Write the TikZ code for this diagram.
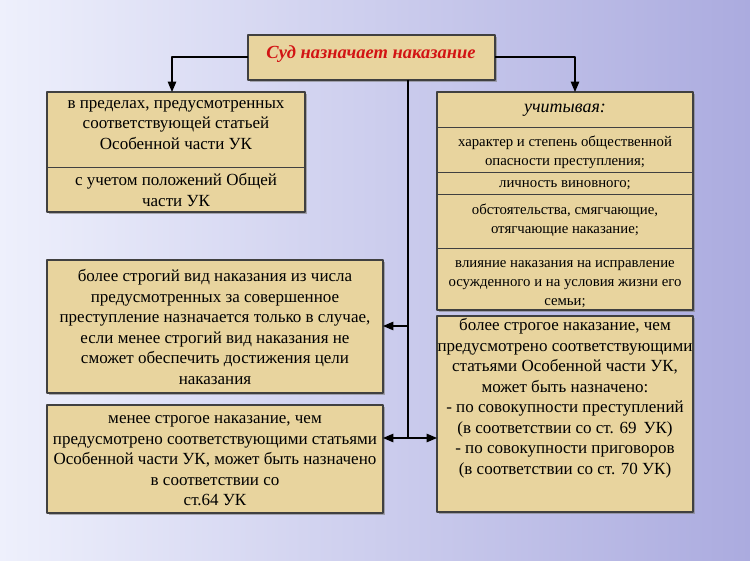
\documentclass[tikz,border=0pt]{standalone}
\usepackage{fontspec}
\setmainfont{Liberation Serif}
\usetikzlibrary{arrows,shadows}
\definecolor{paper}{RGB}{232,212,158}
\definecolor{bgtop}{RGB}{238,240,252}
\definecolor{bgbot}{RGB}{150,150,215}
\definecolor{suit}{RGB}{210,20,20}
\tikzset{
  box/.style={draw=black!75,line width=1.8pt,fill=paper,drop shadow={opacity=0.6,shadow xshift=2pt,shadow yshift=-2pt}},
  txt/.style={align=center,font=\fontsize{17}{20.5}\selectfont},
  sm/.style={align=center,font=\fontsize{14.8}{19}\selectfont},
  sep/.style={line width=0.6pt,color=black!75},
  conn/.style={line width=1.4pt,->,>=triangle 45}
}
\begin{document}
\begin{tikzpicture}[x=1pt,y=-1pt,line join=round]
\shade[top color=bgtop,bottom color=bgbot,left color=bgtop,right color=bgbot!80] (0,0) rectangle (750,561);
\useasboundingbox (0,0) rectangle (750,561);
% boxes
\draw[box] (248,35) rectangle (495,80);
\node[txt,text=suit,font=\bfseries\itshape\fontsize{18.5}{20}\selectfont] (sud) at (371,54) {Суд назначает наказание};
\draw[box] (47,92) rectangle (305,212);
\draw[sep] (47,167) -- (305,167);
\node[txt] (predel) at (176,125) {в пределах, предусмотренных\\соответствующей статьей\\Особенной части УК};
\node[txt] (obsch) at (176,190) {с учетом положений Общей\\части УК};
\draw[box] (437,92) rectangle (693,310);
\draw[sep] (437,127) -- (693,127);
\draw[sep] (437,172) -- (693,172);
\draw[sep] (437,194) -- (693,194);
\draw[sep] (437,248) -- (693,248);
\node[txt,font=\itshape\fontsize{18}{18}\selectfont] (uch) at (565,110) {учитывая:};
\node[sm] (har) at (565,152) {характер и степень общественной\\опасности преступления;};
\node[sm] (lich) at (565,185) {личность виновного;};
\node[sm] (obst) at (565,220) {обстоятельства, смягчающие,\\отягчающие наказание;};
\node[sm] (vliy) at (565,284) {влияние наказания на исправление\\осужденного и на условия жизни его\\семьи;};
\draw[box] (47,260) rectangle (383,393);
\node[txt] (strog) at (215,327) {более строгий вид наказания из числа\\предусмотренных за совершенное\\преступление назначается только в случае,\\если менее строгий вид наказания не\\сможет обеспечить достижения цели\\наказания};
\draw[box] (47,405) rectangle (383,513);
\node[txt] (mene) at (215,461) {менее строгое наказание, чем\\предусмотрено соответствующими статьями\\Особенной части УК, может быть назначено\\в соответствии со\\ст.64 УК};
\draw[box] (437,316) rectangle (693,512);
\node[txt] (bole) at (565,398) {более строгое наказание, чем\\предусмотрено соответствующими\\статьями Особенной части УК,\\может быть назначено:\\- по совокупности преступлений\\(в соответствии со ст. 69\, УК)\\- по совокупности приговоров\\(в соответствии со ст. 70 УК)};
% connectors
\coordinate (tl) at (248,57);
\coordinate (tr) at (495,57);
\coordinate (mid) at (408,80);
\coordinate (j1) at (408,326);
\coordinate (j2) at (408,438);
\draw[conn] (tl) -| (172,92);
\draw[conn] (tr) -| (575,92);
\draw[line width=1.4pt] (mid) -- (j2);
\draw[conn] (j1) -- (383,326);
\draw[conn] (j2) -- (383,438);
\draw[conn] (j2) -- (437,438);
\end{tikzpicture}
\end{document}
